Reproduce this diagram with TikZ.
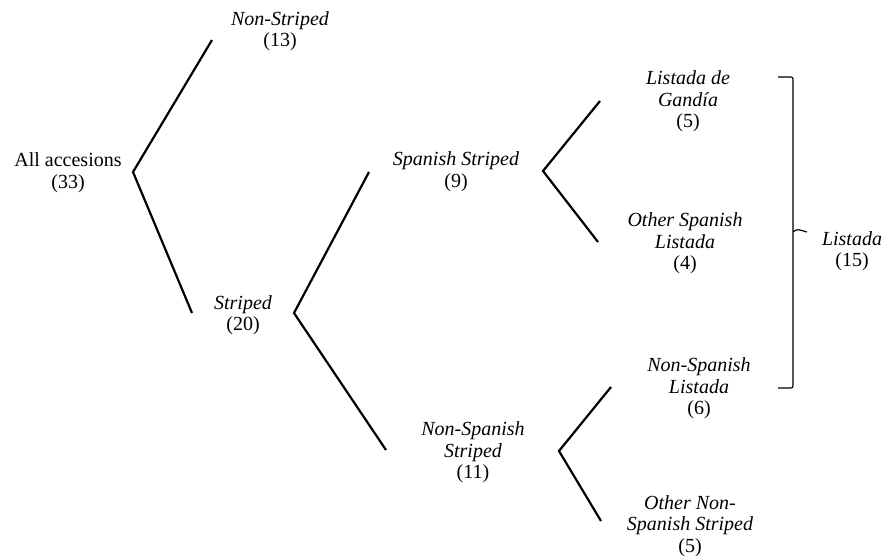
\documentclass[tikz,border=0pt]{standalone}
\usepackage{fontspec}
\setmainfont{Liberation Serif}
\begin{document}
\begin{tikzpicture}[x=1pt,y=-1pt,
  lbl/.style={align=center,inner sep=0pt,font=\fontsize{20}{21.5}\selectfont\itshape},
  rlbl/.style={align=center,inner sep=0pt,font=\fontsize{20}{21.5}\selectfont},
  branch/.style={line width=2.2pt,line join=miter,line cap=butt},
  brk/.style={line width=1.2pt,rounded corners=2pt}]
\useasboundingbox (0,0) rectangle (894,556);

% labels
\node[rlbl] (all) at (68,172.5) {All accesions\\(33)};
\node[lbl] (nonstr) at (280,31) {Non-Striped\\\upshape(13)};
\node[lbl] (str) at (243,315) {Striped\\\upshape(20)};
\node[lbl] (spstr) at (456,171.5) {Spanish Striped\\\upshape(9)};
\node[lbl] (nspstr) at (473,452.5) {Non-Spanish\\Striped\\\upshape(11)};
\node[lbl] (gandia) at (688,101.5) {Listada de\\Gandía\\\upshape(5)};
\node[lbl] (othsp) at (685,243.5) {Other Spanish\\Listada\\\upshape(4)};
\node[lbl] (nsplist) at (699,388.5) {Non-Spanish\\Listada\\\upshape(6)};
\node[lbl] (othnsp) at (690,526) {Other Non-\\Spanish Striped\\\upshape(5)};
\node[lbl] (listada) at (852,251) {Listada\\\upshape(15)};

% branch coordinates
\coordinate (v0) at (133,172);
\coordinate (v0a) at (212,40);
\coordinate (v0b) at (192,313);
\coordinate (v1) at (294,313);
\coordinate (v1a) at (369,172);
\coordinate (v1b) at (386,450);
\coordinate (v2) at (543,171);
\coordinate (v2a) at (600,101);
\coordinate (v2b) at (598,242);
\coordinate (v3) at (559,451);
\coordinate (v3a) at (611,387);
\coordinate (v3b) at (601,521);

\draw[branch] (v0a) -- (v0) -- (v0b);
\draw[branch] (v1a) -- (v1) -- (v1b);
\draw[branch] (v2a) -- (v2) -- (v2b);
\draw[branch] (v3a) -- (v3) -- (v3b);

% bracket
\coordinate (bt) at (778,77);
\coordinate (bb) at (778,388);
\coordinate (bm) at (793,232);
\coordinate (bmt) at (807,232);
\draw[brk] (bt) -- (793,77) -- (793,388) -- (bb);
\draw[line width=1.2pt] (bm) .. controls (797,229) .. (bmt);
\end{tikzpicture}
\end{document}
